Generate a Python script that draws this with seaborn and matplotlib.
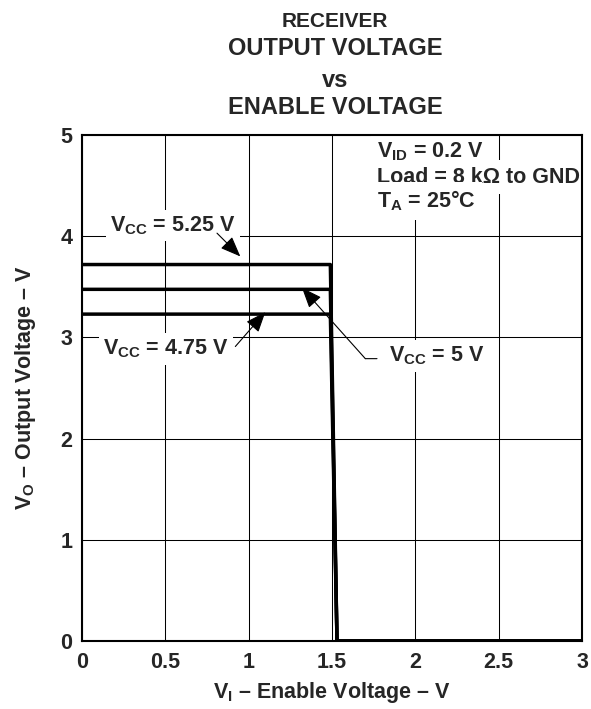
import numpy as np, matplotlib
matplotlib.use("Agg")
import matplotlib.pyplot as plt; import seaborn as sns
import pandas as pd

# ── data ──
vcc_labels = ["5.25", "5", "4.75"]
v_high = [3.72, 3.475, 3.23]         # output high level per VCC
x_break = [0.0, 1.49, 1.53, 3.0]     # enable voltage where output drops
x_ticks = [0, 0.5, 1, 1.5, 2, 2.5, 3]
x_tick_labels = ["0", "0.5", "1", "1.5", "2", "2.5", "3"]
y_ticks = [0, 1, 2, 3, 4, 5]

rows = []
for lab, vh in zip(vcc_labels, v_high):
    for xv, yv in zip(x_break, [vh, vh, 0.0, 0.0]):
        rows.append({"vcc": lab, "VI": xv, "VO": yv})
df = pd.DataFrame(rows)

sns.set_style("white")
plt.rcParams['font.family'] = ['Liberation Sans', 'DejaVu Sans']
plt.rcParams['font.weight'] = 'bold'
plt.rcParams['mathtext.fontset'] = 'custom'
plt.rcParams['mathtext.rm'] = 'Liberation Sans:bold'
plt.rcParams['mathtext.bf'] = 'Liberation Sans:bold'
plt.rcParams['mathtext.it'] = 'Liberation Sans:bold'

FS = 15.5
fig = plt.figure(figsize=(5.91, 7.09), dpi=100)
ax = fig.add_axes([82/591, 1-641/709, 500/591, 506/709])

sns.lineplot(data=df, x="VI", y="VO", units="vcc", estimator=None, sort=False,
             color="black", lw=2.5, ax=ax, zorder=3)

ax.set_xlim(0, 3); ax.set_ylim(0, 5)
ax.set_xticks(x_ticks); ax.set_xticklabels(x_tick_labels)
ax.set_yticks(y_ticks)
ax.grid(True, color="black", lw=0.75)
ax.tick_params(axis="x", length=0, labelsize=FS, pad=8)
ax.tick_params(axis="y", length=0, labelsize=FS, pad=7)
for t in ax.get_xticklabels() + ax.get_yticklabels(): t.set_fontweight("bold")
for s in ax.spines.values():
    s.set_color("black"); s.set_linewidth(1.5); s.set_zorder(6)

ax.set_xlabel(r"$\mathregular{V_I}$ – Enable Voltage – V", fontsize=FS, fontweight="bold", labelpad=5)
ax.set_ylabel(r"$\mathregular{V_O}$ – Output Voltage – V", fontsize=FS, fontweight="bold", labelpad=16)

# titles (baselines in px from top)
cx = 335/591
fig.text(cx, 1-27/709, "RECEIVER", ha="center", va="baseline", fontsize=15, fontweight="bold")
fig.text(cx, 1-55/709, "OUTPUT VOLTAGE", ha="center", va="baseline", fontsize=17, fontweight="bold")
fig.text(cx, 1-87/709, "vs", ha="center", va="baseline", fontsize=17, fontweight="bold")
fig.text(cx, 1-114/709, "ENABLE VOLTAGE", ha="center", va="baseline", fontsize=17, fontweight="bold")

box = dict(boxstyle="square,pad=0.2", fc="white", ec="none")
arr = dict(arrowstyle="-|>,head_length=0.5,head_width=0.2", color="black", lw=0.8,
           mutation_scale=25, shrinkA=0, shrinkB=0)
lead = dict(arrowstyle="-", color="black", lw=0.8, shrinkA=0, shrinkB=0)

# VCC = 5.25 V
ax.text(0.546, 4.05, r"$\mathregular{V_{CC}}$ = 5.25 V", ha="center", va="baseline",
        fontsize=FS, fontweight="bold", bbox=box, zorder=4)
ax.annotate("", xy=(0.95, 3.80), xytext=(0.81, 4.03), arrowprops=arr, zorder=5)
# VCC = 4.75 V
ax.text(0.505, 2.83, r"$\mathregular{V_{CC}}$ = 4.75 V", ha="center", va="baseline",
        fontsize=FS, fontweight="bold", bbox=box, zorder=4)
ax.annotate("", xy=(1.10, 3.25), xytext=(0.92, 2.91), arrowprops=arr, zorder=5)
# VCC = 5 V
ax.text(2.13, 2.76, r"$\mathregular{V_{CC}}$ = 5 V", ha="center", va="baseline",
        fontsize=FS, fontweight="bold", bbox=box, zorder=4)
ax.annotate("", xy=(1.32, 3.49), xytext=(1.70, 2.79), arrowprops=arr, zorder=5)
ax.annotate("", xy=(1.70, 2.79), xytext=(1.77, 2.79), arrowprops=lead, zorder=5)

# test conditions
cond = dict(boxstyle="square,pad=0.3", fc="white", ec="none")
ax.text(1.77, 4.78, r"$\mathregular{V_{ID}}$ = 0.2 V", ha="left", va="baseline",
        fontsize=FS, fontweight="bold", bbox=cond, zorder=4)
ax.text(1.77, 4.53, "Load = 8 kΩ to GND", ha="left", va="baseline",
        fontsize=FS, fontweight="bold", bbox=cond, zorder=4)
ax.text(1.77, 4.28, r"$\mathregular{T_A}$ = 25°C", ha="left", va="baseline",
        fontsize=FS, fontweight="bold", bbox=cond, zorder=4)

fig.savefig("out.png", dpi=100)
